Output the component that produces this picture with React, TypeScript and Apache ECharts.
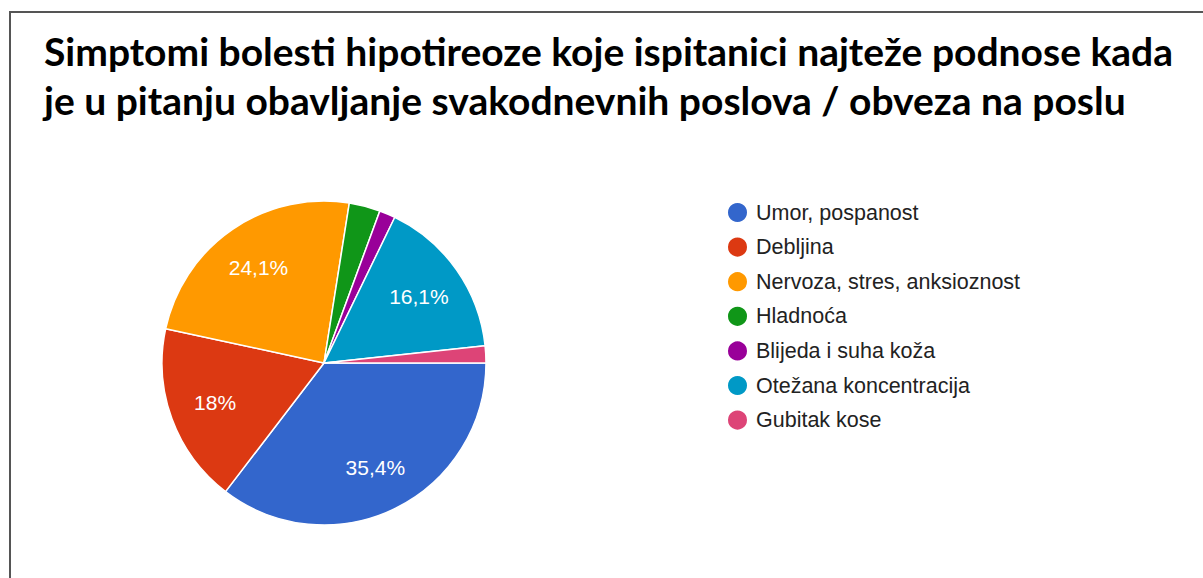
import React, { useEffect, useRef } from "react";
import * as echarts from "echarts";

const titleLines = [
  "Simptomi bolesti hipotireoze koje ispitanici najteže podnose kada",
  "je u pitanju obavljanje svakodnevnih poslova / obveza na poslu",
];
const categories = [
  "Umor, pospanost",
  "Debljina",
  "Nervoza, stres, anksioznost",
  "Hladnoća",
  "Blijeda i suha koža",
  "Otežana koncentracija",
  "Gubitak kose",
];
const values = [35.4, 18, 24.1, 3.1, 1.6, 16.1, 1.7];
const labelShown = [true, true, true, false, false, true, false];
const colors = ["#3366cc", "#dc3912", "#ff9900", "#109618", "#990099", "#0099c6", "#dd4477"];

const fmt = (v: number) => String(v).replace(".", ",") + "%";

export default function App() {
  const ref = useRef<HTMLDivElement>(null);
  useEffect(() => {
    if (!ref.current) return;
    const chart = echarts.init(ref.current, undefined, { renderer: "svg" });
    const mainData = categories.map((name, i) => ({
      name,
      value: values[i],
      itemStyle: { color: colors[i] },
    }));
    const labelData = categories.map((name, i) => ({
      name,
      value: values[i],
      label: { show: labelShown[i] },
    }));
    chart.setOption({
      animation: false,
      backgroundColor: "#ffffff",
      title: {
        text: titleLines.join("\n"),
        left: 44,
        top: 26,
        padding: 0,
        textStyle: {
          fontFamily: "Lato",
          fontWeight: "bold",
          fontSize: 39,
          lineHeight: 49,
          color: "#000000",
        },
      },
      legend: {
        orient: "vertical",
        left: 726,
        top: 201,
        padding: 0,
        icon: "circle",
        itemWidth: 21,
        itemHeight: 21,
        itemGap: 11.6,
        data: categories,
        textStyle: {
          fontFamily: "Liberation Sans, Arial",
          fontSize: 21.5,
          color: "#222222",
          padding: [0, 0, 0, 3],
        },
      },
      graphic: [
        {
          type: "rect",
          shape: { x: 10, y: 12, width: 1400, height: 800 },
          style: { fill: "none", stroke: "#555555", lineWidth: 2 },
          silent: true,
        },
      ],
      series: [
        {
          type: "pie",
          center: [324, 363],
          radius: [0, 162],
          startAngle: 0,
          clockwise: true,
          avoidLabelOverlap: false,
          label: { show: false },
          labelLine: { show: false },
          itemStyle: { borderColor: "#ffffff", borderWidth: 1.5 },
          emphasis: { disabled: true },
          data: mainData,
        },
        {
          type: "pie",
          center: [324, 363],
          radius: [64, 162],
          startAngle: 0,
          clockwise: true,
          silent: true,
          avoidLabelOverlap: false,
          itemStyle: { color: "rgba(0,0,0,0)", borderWidth: 0 },
          label: {
            position: "inside",
            formatter: (p: any) => fmt(p.value),
            color: "#ffffff",
            fontFamily: "Liberation Sans, Arial",
            fontSize: 21,
          },
          labelLine: { show: false },
          emphasis: { disabled: true },
          data: labelData,
        },
      ],
    });
    return () => chart.dispose();
  }, []);
  return (
    <div
      ref={ref}
      style={{ position: "fixed", left: 0, top: 0, width: 1203, height: 578 }}
    />
  );
}
